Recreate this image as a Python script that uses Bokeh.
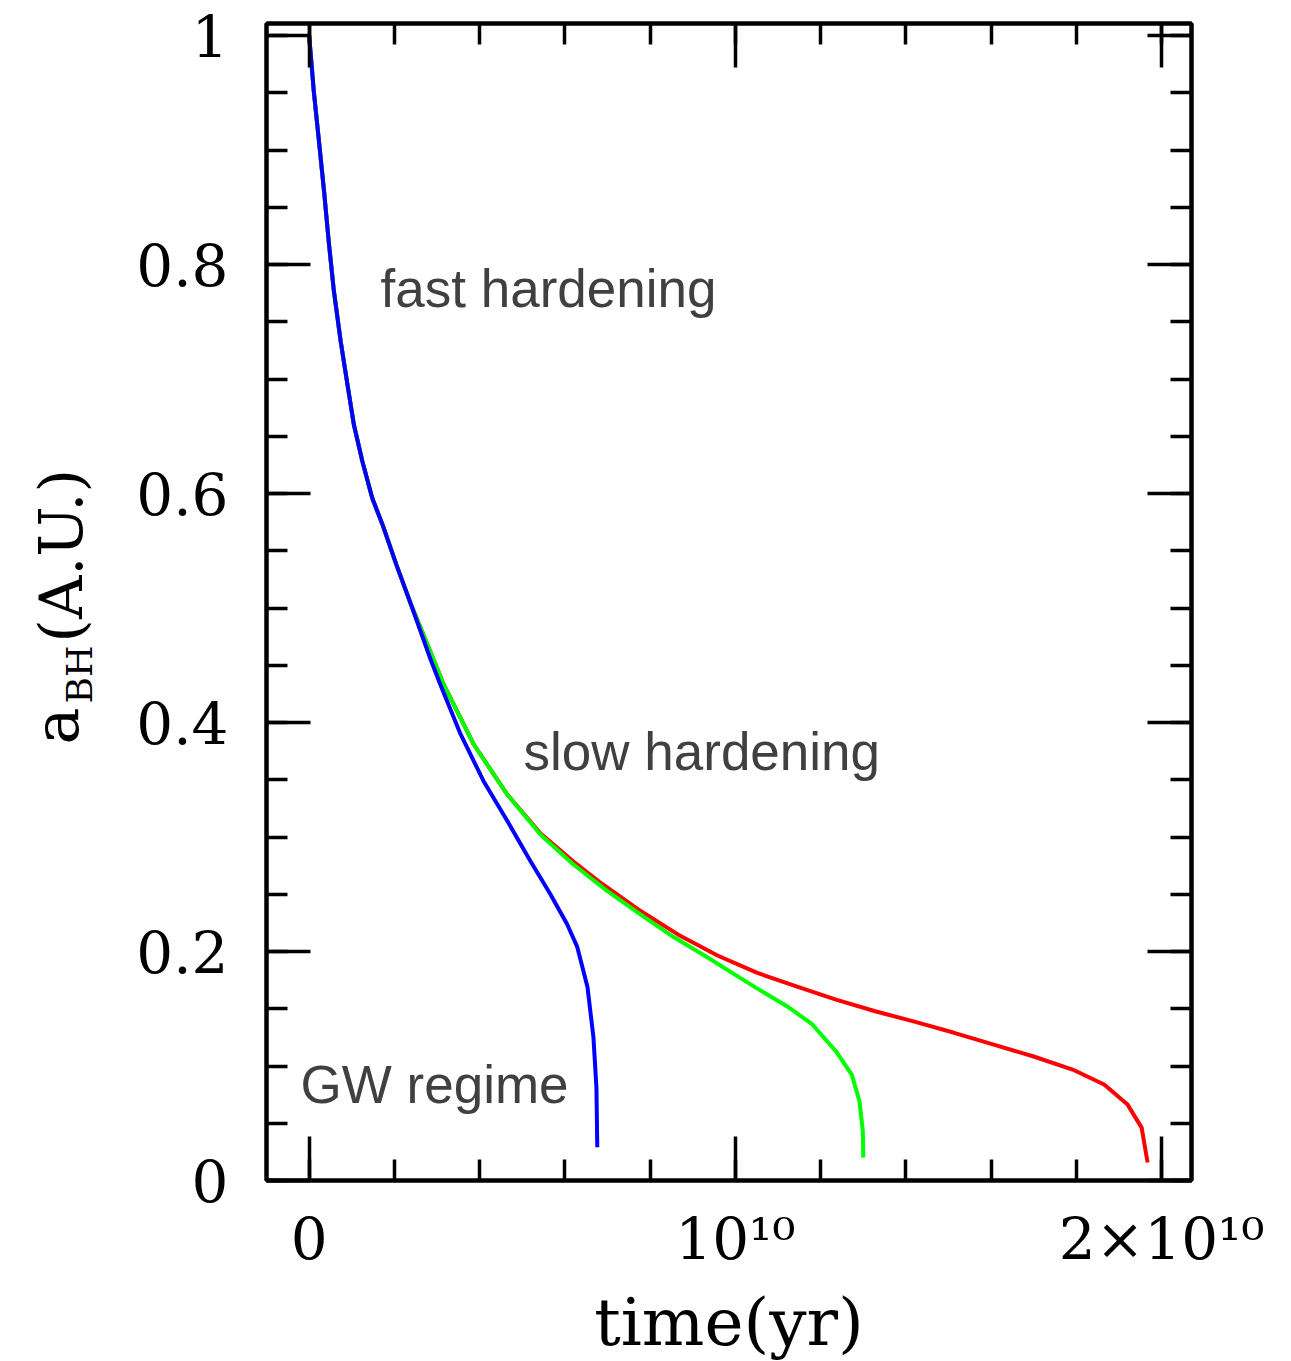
import numpy as np
from bokeh.plotting import figure
from bokeh.layouts import row
from bokeh.models import Range1d, LinearAxis, FixedTicker, Label
from bokeh.core.properties import value
from bokeh.embed import file_html
from bokeh.resources import INLINE

# ---------------- data (time in years, separation in A.U.) ----------------
blue_t = [0, 0.11e9, 0.23e9, 0.35e9, 0.46e9, 0.58e9, 0.74e9, 0.90e9, 1.05e9, 1.25e9,
          1.48e9, 1.72e9, 2.05e9, 2.37e9, 2.85e9, 3.08e9, 3.55e9, 4.09e9, 4.65e9,
          5.19e9, 5.66e9, 6.05e9, 6.29e9, 6.53e9, 6.67e9, 6.74e9, 6.76e9]
blue_a = [1.0, 0.951, 0.908, 0.864, 0.820, 0.777, 0.733, 0.695, 0.660, 0.628,
          0.596, 0.573, 0.5375, 0.505, 0.455, 0.433, 0.390, 0.349, 0.314,
          0.279, 0.250, 0.224, 0.204, 0.169, 0.125, 0.081, 0.029]

green_t = [0, 0.11e9, 0.23e9, 0.35e9, 0.46e9, 0.58e9, 0.74e9, 0.90e9, 1.05e9, 1.25e9,
           1.48e9, 1.72e9, 2.05e9, 2.37e9, 2.92e9, 3.16e9, 3.86e9, 4.65e9, 5.43e9,
           6.20e9, 6.99e9, 7.77e9, 8.55e9, 9.34e9, 10.11e9, 10.5e9, 11.24e9, 11.8e9,
           12.36e9, 12.73e9, 12.91e9, 12.99e9, 13.0e9]
green_a = [1.0, 0.951, 0.908, 0.864, 0.820, 0.777, 0.733, 0.695, 0.660, 0.628,
           0.596, 0.573, 0.5375, 0.505, 0.455, 0.433, 0.381, 0.337, 0.302,
           0.276, 0.253, 0.2325, 0.2126, 0.195, 0.177, 0.168, 0.1515, 0.1365,
           0.1128, 0.0925, 0.0692, 0.043, 0.020]

red_t = [0, 0.11e9, 0.23e9, 0.35e9, 0.46e9, 0.58e9, 0.74e9, 0.90e9, 1.05e9, 1.25e9,
         1.48e9, 1.72e9, 2.05e9, 2.37e9, 2.92e9, 3.16e9, 3.86e9, 4.65e9, 5.43e9,
         6.20e9, 6.80e9, 7.73e9, 8.66e9, 9.58e9, 10.5e9, 11.43e9, 12.36e9, 13.28e9,
         14.2e9, 15.13e9, 16.06e9, 16.98e9, 17.91e9, 18.65e9, 19.2e9, 19.53e9, 19.67e9]
red_a = [1.0, 0.951, 0.908, 0.864, 0.820, 0.777, 0.733, 0.695, 0.660, 0.628,
         0.596, 0.573, 0.5375, 0.505, 0.455, 0.433, 0.381, 0.337, 0.303,
         0.2785, 0.261, 0.2365, 0.2147, 0.1965, 0.1815, 0.1695, 0.158, 0.1478,
         0.1387, 0.129, 0.1187, 0.1085, 0.0969, 0.0838, 0.0663, 0.0462, 0.0157]

x_ticks = [0, 1e10, 2e10]
x_tick_labels = ["0", "10\u00b9\u2070", "2\u00d710\u00b9\u2070"]
y_ticks = [0, 0.2, 0.4, 0.6, 0.8, 1.0]
y_tick_labels = ["0", "0.2", "0.4", "0.6", "0.8", "1"]

annotations = ["fast hardening", "slow hardening", "GW regime"]
annotation_x = [1.676e9, 5.03e9, -0.2e9]
annotation_y = [0.779, 0.3747, 0.0835]

x_label = "time(yr)"
y_label_parts = ["a", "BH", "(A.U.)"]

TOP = 23
FRAME_W, FRAME_H = 925, 1157
YLAB_W = 120
H = 1361
BOTTOM = H - TOP - FRAME_H

# ---------------- main figure ----------------
p = figure(frame_width=FRAME_W, frame_height=FRAME_H, output_backend="svg", toolbar_location=None,
           x_range=Range1d(-1e9, 2.07e10), y_range=Range1d(0, 1.0105),
           min_border_left=266 - YLAB_W, min_border_right=99, min_border_top=TOP,
           min_border_bottom=BOTTOM, x_axis_location=None, y_axis_location=None)
p.grid.visible = False
p.outline_line_color = "black"
p.outline_line_width = 4
p.background_fill_color = "white"
p.border_fill_color = "white"

xminor = list(np.arange(0.0, 2.07e10, 2e9))
yminor = list(np.round(np.arange(0, 1.0105, 0.05), 2))

def style(ax):
    ax.axis_line_width = 4
    ax.axis_line_color = "black"
    ax.major_tick_in = 44
    ax.major_tick_out = 0
    ax.minor_tick_in = 21
    ax.minor_tick_out = 0
    ax.major_tick_line_width = 3.5
    ax.minor_tick_line_width = 3.5
    ax.major_tick_line_color = "black"
    ax.minor_tick_line_color = "black"
    ax.major_label_text_font = "DejaVu Serif"
    ax.major_label_text_font_size = "58px"
    ax.major_label_text_color = "black"
    ax.axis_label_text_font = "DejaVu Serif"
    ax.axis_label_text_font_style = "normal"
    ax.axis_label_text_color = "black"

for loc in ["below", "above"]:
    ax = LinearAxis(ticker=FixedTicker(ticks=x_ticks, minor_ticks=xminor))
    style(ax)
    if loc == "below":
        ax.major_label_overrides = {t: l for t, l in zip(x_ticks, x_tick_labels)}
        ax.major_label_standoff = 24
        ax.axis_label = x_label
        ax.axis_label_text_font_size = "66px"
        ax.axis_label_standoff = 8
    else:
        ax.major_label_overrides = {t: "" for t in x_ticks}
        ax.major_label_standoff = 0
    p.add_layout(ax, loc)

for loc in ["left", "right"]:
    ax = LinearAxis(ticker=FixedTicker(ticks=y_ticks, minor_ticks=yminor))
    style(ax)
    if loc == "left":
        ax.major_label_overrides = {t: l for t, l in zip(y_ticks, y_tick_labels)}
        ax.major_label_standoff = 38
    else:
        ax.major_label_overrides = {t: "" for t in y_ticks}
        ax.major_label_standoff = 0
    p.add_layout(ax, loc)

# curves
p.line(red_t, red_a, line_color="#ff0000", line_width=4)
p.line(green_t, green_a, line_color="#00ff00", line_width=4)
p.line(blue_t, blue_a, line_color="#0000ff", line_width=4)

# annotations
for txt, x, y in zip(annotations, annotation_x, annotation_y):
    p.add_layout(Label(x=x, y=y, text=txt, text_font="Liberation Sans",
                       text_font_size="53px", text_color="#404040",
                       text_baseline="alphabetic", text_align="left"))

# ---------------- y-axis title panel (pixel coordinates: y = H - image row) ----------------
ylab = figure(frame_width=YLAB_W, frame_height=FRAME_H, output_backend="svg", toolbar_location=None,
              x_range=Range1d(0, YLAB_W), y_range=Range1d(BOTTOM, H - TOP),
              min_border_left=0, min_border_right=0, min_border_top=TOP,
              min_border_bottom=BOTTOM, x_axis_location=None, y_axis_location=None,
              title=None)
ylab.grid.visible = False
ylab.outline_line_color = None
ylab.background_fill_color = "white"
ylab.border_fill_color = "white"

shift = TOP - 19
ylab.text(x=[56], y=[H - (740 + shift)], text=[y_label_parts[0]], angle=np.pi / 2,
          text_font=value("DejaVu Serif"), text_font_size="62px", text_color="black",
          text_align="left", text_baseline="alphabetic")
ylab.text(x=[79], y=[H - (699 + shift)], text=[y_label_parts[1]], angle=np.pi / 2,
          text_font=value("DejaVu Serif"), text_font_size="36px", text_color="black",
          text_align="left", text_baseline="alphabetic")
ylab.text(x=[60], y=[H - (638 + shift)], text=[y_label_parts[2]], angle=np.pi / 2,
          text_font=value("DejaVu Serif"), text_font_size="60px", text_color="black",
          text_align="left", text_baseline="alphabetic")

layout = row(ylab, p)
open("out.html", "w").write(file_html(layout, INLINE))
